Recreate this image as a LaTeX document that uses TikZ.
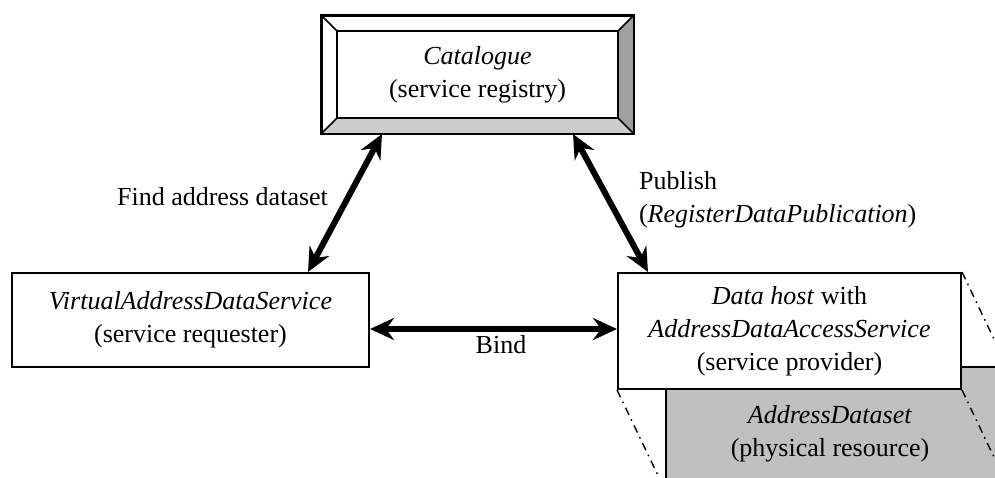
\documentclass[tikz,border=0pt]{standalone}
\usepackage{fontspec}
\setmainfont{Liberation Serif}
\usepackage{xcolor}
\usetikzlibrary{arrows.meta, positioning, calc}
\definecolor{bevelgray}{RGB}{160,160,160}
\definecolor{bevellight}{RGB}{204,204,204}
\definecolor{datagray}{RGB}{192,192,192}

\begin{document}
\begin{tikzpicture}[
    x=0.5pt, y=-0.5pt,
    font=\fontsize{13}{16.5}\selectfont,
    >={Stealth[length=12pt, width=11pt, inset=4pt]},
    plainbox/.style={draw, line width=1pt, fill=white, align=center, inner sep=0pt},
    bigarrow/.style={<->, line width=3pt},
    persp/.style={line width=0.7pt, dash pattern=on 4pt off 2.5pt on 0.8pt off 2.5pt},
]
    \useasboundingbox (0,0) rectangle (995,477);
    \node[plainbox, minimum width=155.5pt, minimum height=58.5pt] (cat) at (477.5,74.5) {};
    \node[align=center, inner sep=0pt, minimum width=140.5pt, minimum height=43.5pt] (catin) at (477.5,74.5) {\textit{Catalogue}\\(service registry)};
    \fill[bevelgray] (cat.north east) -- (cat.south east) -- (catin.south east) -- (catin.north east) -- cycle;
    \fill[bevellight] (cat.south west) -- (cat.south east) -- (catin.south east) -- (catin.south west) -- cycle;
    \draw[line width=1pt] (cat.north west) rectangle (cat.south east);
    \draw[line width=1pt] (catin.north west) rectangle (catin.south east);
    \foreach \c in {north west, north east, south west, south east}
        \draw[line width=0.8pt] (cat.\c) -- (catin.\c);

    \node[plainbox, minimum width=178.5pt, minimum height=47pt] (req) at (190.5,320) {\textit{VirtualAddressDataService}\\(service requester)};

    % physical resource behind the provider
    \begin{scope}
        \clip (0,0) rectangle (995,477);
        \coordinate (dsnw) at (666,367);
        \draw[line width=1pt, fill=datagray] (dsnw) rectangle (1100,560);
        \node[align=center] (ds) at (830,434) {\textit{AddressDataset}\\(physical resource)};
        \node[plainbox, minimum width=171.5pt, minimum height=58pt] (prov) at (789.5,331) {\textit{Data host} with\\\textit{AddressDataAccessService}\\(service provider)};
        \draw[persp] (prov.north east) -- ++(40,84);
        \draw[persp] (prov.south west) -- ++(48,100);
        \draw[persp] (prov.south east) -- ++(40,84);
    \end{scope}

    \draw[bigarrow] ([xshift=-31pt]req.north east) -- ([xshift=30.5pt]cat.south west);
    \draw[bigarrow] ([xshift=-30.5pt]cat.south east) -- ([xshift=15.5pt]prov.north west);
    \draw[bigarrow] ([yshift=1pt]req.east |- prov.west) -- ([yshift=1pt]prov.west);

    \node[anchor=base east] (find) at (335,205) {Find address dataset};
    \node[anchor=west, align=left] (pub) at (632,199.5) {Publish\\(\textit{RegisterDataPublication})};
    \node[anchor=base] (bind) at (501,353) {Bind};
\end{tikzpicture}
\end{document}
